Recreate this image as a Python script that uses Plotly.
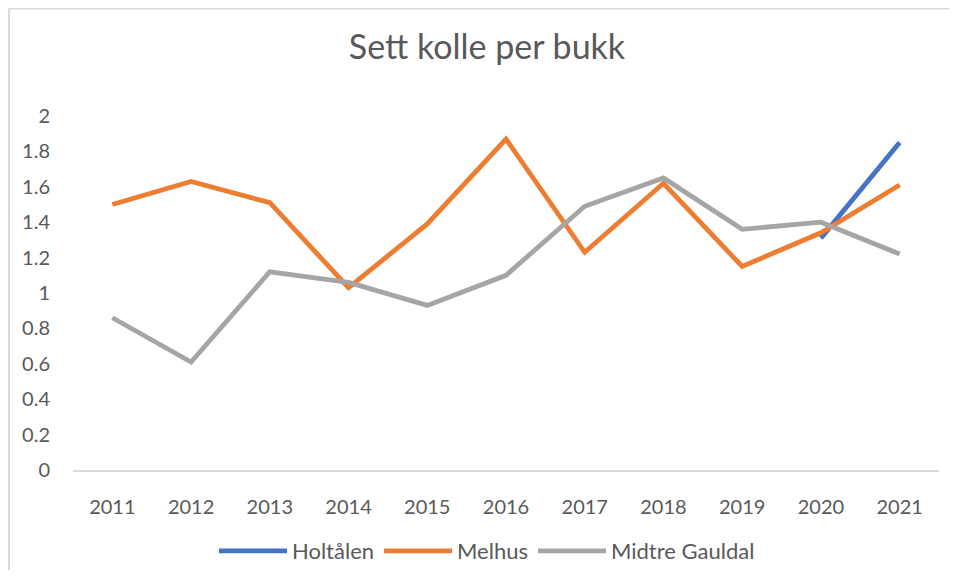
import plotly.graph_objects as go

years = ["2011", "2012", "2013", "2014", "2015", "2016", "2017", "2018", "2019", "2020", "2021"]
holtalen = [None, None, None, None, None, None, None, None, None, 1.31, 1.85]
melhus = [1.50, 1.63, 1.51, 1.03, 1.39, 1.87, 1.23, 1.62, 1.15, 1.34, 1.61]
midtre_gauldal = [0.86, 0.61, 1.12, 1.06, 0.93, 1.10, 1.49, 1.65, 1.36, 1.40, 1.22]

series_names = ["Holtålen", "Melhus", "Midtre Gauldal"]
colors = ["#4472C4", "#ED7D31", "#A5A5A5"]

fig = go.Figure()
for name, vals, col in zip(series_names, [holtalen, melhus, midtre_gauldal], colors):
    fig.add_trace(go.Scatter(x=years, y=vals, name=name, mode="lines",
                             line=dict(color=col, width=4.8), connectgaps=False))

# page offset of 8px (body margin) -> figure sized to avoid scrollbars
W, H = 941, 562
L, R, T, B = 65, 10, 108, 100
pw, ph = W - L - R, H - T - B

fig.update_layout(
    width=W, height=H,
    margin=dict(l=L, r=R, t=T, b=B, autoexpand=False),
    paper_bgcolor="white", plot_bgcolor="white",
    font=dict(family="Lato, Open Sans, sans-serif", color="#595959", size=20),
    title=dict(text="Sett kolle per bukk", x=479 / W, xanchor="center", y=1 - 39 / H, yanchor="middle",
               font=dict(size=34, color="#595959")),
    showlegend=True,
    legend=dict(orientation="h", x=(479 - L) / pw, xanchor="center", y=(462 - 543) / ph, yanchor="middle",
                font=dict(size=22, color="#595959"), itemwidth=68, tracegroupgap=0),
    xaxis=dict(type="category", range=[-0.5, 10.5], showgrid=False, showline=True,
               linecolor="#d9d9d9", linewidth=1.5, ticks="", ticklabelstandoff=18,
               tickfont=dict(size=20, color="#595959"), zeroline=False),
    yaxis=dict(range=[0, 2], tickvals=[0, 0.2, 0.4, 0.6, 0.8, 1, 1.2, 1.4, 1.6, 1.8, 2],
               ticktext=["0", "0.2", "0.4", "0.6", "0.8", "1", "1.2", "1.4", "1.6", "1.8", "2"],
               showgrid=False, showline=False, zeroline=False, ticks="", ticklabelstandoff=22,
               tickfont=dict(size=20, color="#595959")),
    shapes=[
        dict(type="line", xref="paper", yref="paper",
             x0=(1 - L) / pw, x1=(W + 20 - L) / pw, y0=(462 - 0.5) / ph, y1=(462 - 0.5) / ph,
             line=dict(color="#d9d9d9", width=2), layer="below"),
        dict(type="line", xref="paper", yref="paper",
             x0=(1 - L) / pw, x1=(1 - L) / pw, y0=(462 - 0.5) / ph, y1=(462 - (H + 20)) / ph,
             line=dict(color="#d9d9d9", width=2), layer="below"),
    ],
)

fig.write_html("out.html")
